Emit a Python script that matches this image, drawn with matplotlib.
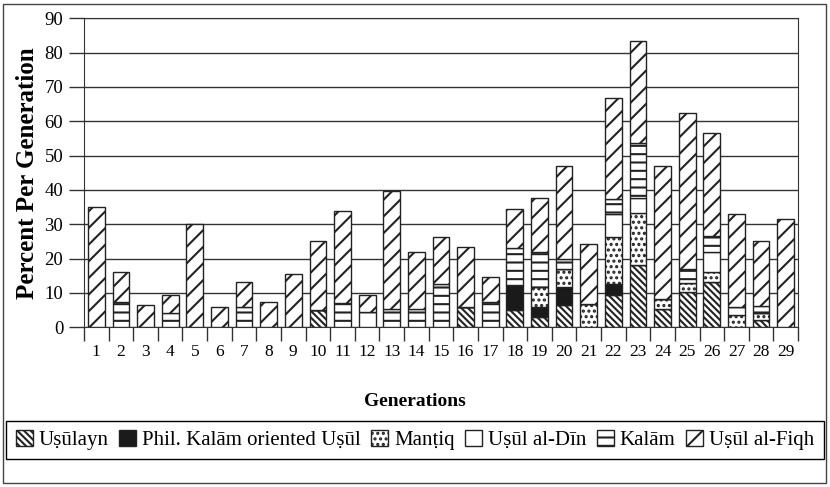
import numpy as np
import matplotlib
matplotlib.use("Agg")
import matplotlib.pyplot as plt
from matplotlib.patches import Rectangle

plt.rcParams['font.family'] = ['Liberation Serif', 'DejaVu Serif']
plt.rcParams['hatch.linewidth'] = 1.5

generations = [str(i) for i in range(1, 30)]

# stacked from the bottom up
usulayn = [0, 0, 0, 0, 0, 0, 0, 0, 0, 5, 0, 0, 0, 0, 0, 6, 0, 5, 2.9, 6.5,
           0, 9.4, 18.2, 5.2, 10.4, 13.2, 0, 2.1, 0]
phil_kalam = [0, 0, 0, 0, 0, 0, 0, 0, 0, 0, 0, 0, 0, 0, 0, 0, 0, 7.3, 2.9, 5.3,
              0, 3.2, 0, 0, 0, 0, 0, 0, 0]
mantiq = [0, 0, 0, 0, 0, 0, 0, 0, 0, 0, 0, 0, 0, 0, 0, 0, 0, 0, 5.9, 5.1,
          6.7, 13.8, 15.0, 3.0, 2.6, 2.8, 3.6, 2.1, 0]
usul_din = [0, 0, 0, 0, 0, 0, 0, 0, 0, 0, 0, 4.4, 0, 0, 0, 0, 0, 0, 0, 0,
            0, 6.5, 4.4, 0, 0, 6.0, 2.4, 0, 0]
kalam = [0, 7.5, 0, 4.3, 0, 0, 6, 0, 0, 0, 7, 0, 5.2, 5.2, 12.5, 0, 7.3, 10.7, 10.3, 2.9,
         0, 4.6, 16.2, 0, 3.9, 4.6, 0, 2.0, 0]
usul_fiqh = [35, 8.5, 6.5, 5.1, 30, 5.8, 7.1, 7.3, 15.4, 20, 27, 5, 34.5, 16.8, 13.9, 17.5, 7.3, 11.5, 15.6, 27.2,
             17.5, 29.4, 29.5, 38.8, 45.6, 30.0, 27, 19, 31.5]

series = [
    ("Uṣūlayn", usulayn, "white", "\\\\\\\\\\"),
    ("Phil. Kalām oriented Uṣūl", phil_kalam, "#1a1a1a", None),
    ("Manṭiq", mantiq, "white", "..."),
    ("Uṣūl al-Dīn", usul_din, "white", None),
    ("Kalām", kalam, "white", "--"),
    ("Uṣūl al-Fiqh", usul_fiqh, "white", "//"),
]

fig = plt.figure(figsize=(8.3, 4.87), dpi=100)
ax = fig.add_axes([84 / 830, 1 - 327.3 / 487, 714 / 830, 309 / 487])

x = np.arange(len(generations))
bottom = np.zeros(len(generations))
for label, vals, color, hatch in series:
    vals = np.array(vals, dtype=float)
    ax.bar(x, vals, width=0.68, bottom=bottom, color=color, edgecolor="#222222",
           hatch=hatch, linewidth=1.0, label=label, zorder=3)
    bottom += vals

ax.set_xlim(-0.5, len(generations) - 0.5)
ax.set_ylim(0, 90)
ax.set_yticks(np.arange(0, 91, 10))
ax.yaxis.grid(True, color="#333333", linewidth=1.0, zorder=0)
ax.set_xticks(x)
ax.set_xticklabels(generations, fontsize=12.5)
ax.set_xticks(np.arange(-0.5, len(generations)), minor=True)
ax.tick_params(axis="x", which="major", length=0, pad=12)
ax.tick_params(axis="x", which="minor", length=10, width=1.0, color="#333333")
ax.tick_params(axis="y", length=11, width=1.0, labelsize=13.5, color="#333333", pad=4)
for s in ax.spines.values():
    s.set_color("#333333")

ax.set_ylabel("Percent Per Generation", fontsize=18, fontweight="bold", labelpad=4)
fig.text(0.5, 1 - 402 / 487, "Generations", fontsize=14, fontweight="bold",
         ha="center", va="center")

leg = fig.legend(loc="center", ncol=6, bbox_to_anchor=(0.5, 1 - 440 / 487),
                 fontsize=15, fancybox=False, edgecolor="black", framealpha=1,
                 handlelength=0.8, handleheight=0.8, handletextpad=0.3,
                 columnspacing=0.5, borderpad=0.45, borderaxespad=0)
leg.get_frame().set_linewidth(1.0)

fig.patches.append(Rectangle((3 / 830, 4 / 487), 823 / 830, 479 / 487,
                             transform=fig.transFigure, fill=False,
                             edgecolor="#444444", linewidth=1.0))

fig.savefig("out.png", dpi=100)
